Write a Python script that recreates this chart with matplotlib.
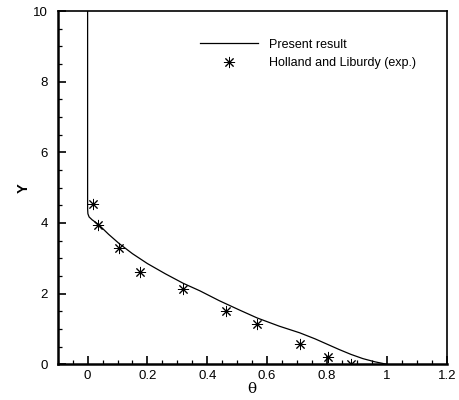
import matplotlib
matplotlib.use("Agg")
import matplotlib.pyplot as plt
from matplotlib.ticker import MultipleLocator, FuncFormatter

# present result (numerical curve)
theta_present = [0.0, 0.0, 0.001, 0.005, 0.015, 0.036, 0.07, 0.105, 0.15, 0.2,
                 0.26, 0.32, 0.375, 0.44, 0.509, 0.567, 0.64, 0.709, 0.76,
                 0.80, 0.84, 0.88, 0.92, 0.96, 1.0]
y_present = [10.0, 4.4, 4.26, 4.17, 4.09, 3.96, 3.68, 3.42, 3.13, 2.85,
             2.56, 2.29, 2.08, 1.80, 1.53, 1.31, 1.08, 0.89, 0.72,
             0.57, 0.42, 0.28, 0.16, 0.07, 0.0]

# Holland and Liburdy experimental points
theta_exp = [0.019, 0.036, 0.105, 0.175, 0.32, 0.461, 0.567, 0.709, 0.802, 0.88]
y_exp = [4.55, 3.95, 3.29, 2.60, 2.13, 1.51, 1.14, 0.57, 0.21, 0.01]

plt.rcParams['font.family'] = ['Liberation Sans', 'DejaVu Sans']

fig = plt.figure(figsize=(4.6, 4.0), dpi=100)
ax = fig.add_axes([0.1254, 0.0893, 0.8457, 0.8832])

ax.plot(theta_present, y_present, color='black', lw=0.9, label='Present result')
ax.plot(theta_exp, y_exp, linestyle='none', marker=(8, 2, 0), markersize=8,
        color='black', mew=0.7, label='Holland and Liburdy (exp.)')

ax.set_xlim(-0.1, 1.2)
ax.set_ylim(0, 10)

ax.xaxis.set_major_locator(MultipleLocator(0.2))
ax.xaxis.set_minor_locator(MultipleLocator(0.05))
ax.yaxis.set_major_locator(MultipleLocator(2))
ax.yaxis.set_minor_locator(MultipleLocator(0.5))
ax.xaxis.set_major_formatter(FuncFormatter(lambda v, p: f"{v:g}" if abs(v) > 1e-9 else "0"))

ax.tick_params(axis='both', which='major', direction='in', length=6, width=1.2,
               labelsize=9.5, top=False, right=False)
ax.tick_params(axis='both', which='minor', direction='in', length=3.2, width=0.9,
               top=False, right=False)
ax.tick_params(axis='y', which='major', pad=7)
ax.tick_params(axis='x', which='major', pad=4)

for side in ['left', 'bottom']:
    ax.spines[side].set_linewidth(1.8)
for side in ['top', 'right']:
    ax.spines[side].set_linewidth(1.2)

ax.set_xlabel('θ', family=['DejaVu Serif'], fontsize=11, labelpad=0)
ax.set_ylabel('Y', fontsize=10.5, fontweight='bold', labelpad=2)

ax.legend(loc='upper right', bbox_to_anchor=(0.95, 0.953), frameon=False,
          fontsize=9, handlelength=4.6, handletextpad=0.9, labelspacing=0.5)

fig.savefig('out.png', dpi=100)
